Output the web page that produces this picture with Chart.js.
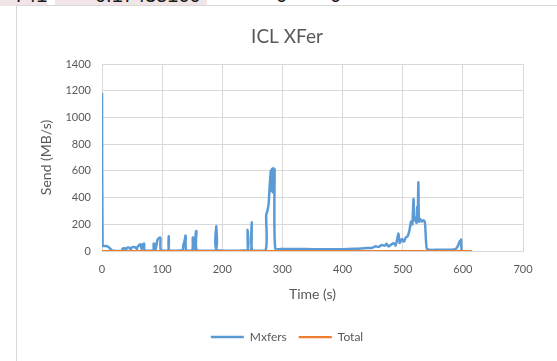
<!DOCTYPE html>
<html>
<head>
<meta charset="utf-8">
<script src="https://cdn.jsdelivr.net/npm/chart.js@4.4.1/dist/chart.umd.min.js"></script>
<style>
  html, body { margin:0; padding:0; background:#fff; }
  body { width:557px; height:361px; position:relative; overflow:hidden; font-family:Lato, sans-serif; }
  /* spreadsheet row peeking above the chart */
  .row { position:absolute; left:0; top:0; width:557px; height:6px; overflow:hidden; }
  .cell { position:absolute; top:0; height:6px; background:#f1e5e7; }
  .row span { position:absolute; top:-15px; font:20px "Liberation Sans", sans-serif; color:#1a1a1a; line-height:20px; }
  .box { position:absolute; left:16px; top:5px; width:560px; height:370px; border:1px solid #d9d9d9; background:#fff; }
  #chart { position:absolute; left:17px; top:6px; }
</style>
</head>
<body>
<div class="row">
  <div class="cell" style="left:0;width:47px"></div>
  <div class="cell" style="left:55px;width:152px"></div>
  <span style="left:14px">741</span>
  <span style="left:95px">0.17435100</span>
  <span style="left:276px">0</span>
  <span style="left:330px">0</span>
</div>
<div class="box"></div>
<canvas id="chart" width="540" height="355"></canvas>
<script>
/* ── DATA ── */
const times  = [0, 1, 5, 9, 12, 16, 20, 33, 34, 37, 40, 41, 45, 48, 49, 55, 58, 59, 62, 64, 66, 68, 70, 71,
                85, 86, 88, 89, 92, 94, 97, 98, 110, 111, 112, 134, 135, 137, 139, 140, 150, 151, 153, 154, 156, 157, 158,
                189, 190, 191, 241, 242, 243, 248, 249, 250,
                272, 273, 275, 277, 279, 281, 282, 283, 284, 285, 286, 287, 288,
                300, 350, 400, 420, 430, 440, 450, 455, 460, 465, 470, 473, 476, 480, 485, 488, 490, 493, 495, 499,
                502, 505, 508, 511, 514, 516, 518, 519, 521, 523, 524, 525, 526, 527, 529, 532, 535, 537, 539, 541,
                560, 580, 588, 592, 595, 596, 597, 598, 600];
const mxfers = [1185, 40, 38, 35, 25, 8, 2, 2, 15, 20, 10, 22, 25, 12, 25, 28, 15, 30, 45, 50, 10, 50, 55, 5,
                5, 55, 50, 10, 80, 95, 100, 5, 5, 110, 5, 5, 40, 70, 115, 5, 5, 100, 90, 10, 140, 150, 5,
                5, 185, 5, 5, 160, 5, 5, 215, 5,
                5, 270, 300, 350, 500, 605, 450, 615, 440, 620, 450, 610, 20,
                15, 14, 14, 16, 18, 22, 25, 35, 30, 45, 40, 55, 35, 45, 60, 40, 70, 130, 60, 90,
                70, 100, 110, 150, 220, 200, 390, 230, 250, 210, 330, 240, 515, 220, 240, 220, 230, 210, 60, 12,
                10, 10, 15, 40, 75, 60, 85, 5, 0];
const totalTimes  = [0, 100, 200, 300, 400, 500, 600, 615];
const totalValues = [0, 0, 0, 0, 0, 0, 0, 0];

const xMin = 0, xMax = 700, xStep = 100;
const yMin = 0, yMax = 1400, yStep = 200;

const BLUE = "#5B9BD5", ORANGE = "#ED7D31", TEXT = "#595959", GRID = "#d9d9d9";

const pts = (xs, ys) => xs.map((x, i) => ({ x, y: ys[i] }));

new Chart(document.getElementById("chart").getContext("2d"), {
  type: "line",
  data: {
    datasets: [
      { label: "Mxfers", data: pts(times, mxfers), borderColor: BLUE, backgroundColor: BLUE,
        borderWidth: 2.5, pointRadius: 0, tension: 0.25, order: 1 },
      { label: "Total", data: pts(totalTimes, totalValues), borderColor: ORANGE, backgroundColor: ORANGE,
        borderWidth: 2.25, pointRadius: 0, tension: 0, order: 0 }
    ]
  },
  options: {
    responsive: false, animation: false, devicePixelRatio: 1,
    layout: { padding: { left: 34, right: 34, top: 0, bottom: 8 } },
    plugins: {
      title: { display: true, text: "ICL XFer", color: TEXT, font: { family: "Lato", size: 19, weight: "normal" },
               padding: { top: 19.6, bottom: 15.6 } },
      legend: { position: "bottom",
        labels: { color: TEXT, font: { family: "Lato", size: 12 }, usePointStyle: true, pointStyle: "line",
                  pointStyleWidth: 33, padding: 12,
                  sort: (a, b) => a.datasetIndex - b.datasetIndex } },
      tooltip: { enabled: false }
    },
    scales: {
      x: { type: "linear", min: xMin, max: xMax,
           ticks: { stepSize: xStep, color: TEXT, font: { family: "Lato", size: 11 }, padding: 12, callback: v => v },
           grid: { color: GRID, drawTicks: false }, border: { color: GRID },
           title: { display: true, text: "Time (s)", color: TEXT, font: { family: "Lato", size: 14 }, padding: { top: 0, bottom: 16.6 } },
           afterFit: s => { s.height = 68; } },
      y: { min: yMin, max: yMax,
           ticks: { stepSize: yStep, color: TEXT, font: { family: "Lato", size: 11 }, padding: 11, callback: v => v },
           grid: { color: GRID, drawTicks: false }, border: { display: false },
           title: { display: true, text: "Send (MB/s)", color: TEXT, font: { family: "Lato", size: 14 }, padding: { top: -13.4, bottom: 0 } },
           afterFit: s => { s.width = 51; } }
    }
  }
});
</script>
</body>
</html>
